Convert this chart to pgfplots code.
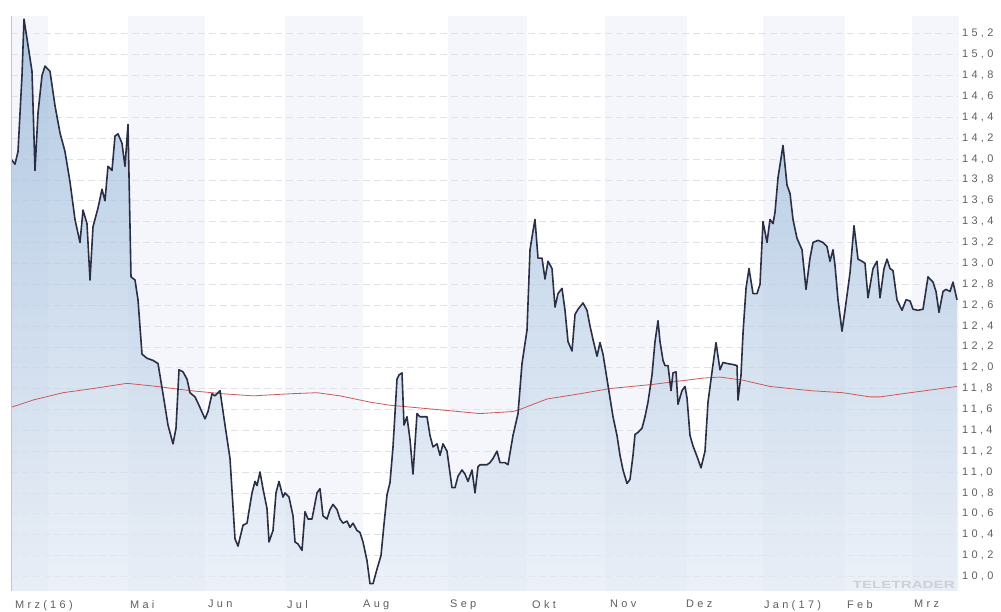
\documentclass[border=0pt]{standalone}
\usepackage{pgfplots}
\pgfplotsset{compat=1.18}
\usepackage{pgfplotstable}
\usepackage{fontspec}
\setmainfont{Liberation Sans}
\newfontfamily\tickfont[LetterSpace=30]{Liberation Sans}
\definecolor{bandcol}{RGB}{245,246,251}
\definecolor{gridcol}{RGB}{224,226,231}
\definecolor{bordercol}{RGB}{195,197,202}
\definecolor{pricecol}{RGB}{42,47,70}
\definecolor{macol}{RGB}{204,88,88}
\definecolor{areatop}{RGB}{148,181,216}
\definecolor{areabot}{RGB}{228,235,245}
\definecolor{labelcol}{RGB}{95,95,95}
\definecolor{wmcol}{RGB}{205,208,213}

\pgfplotstableread{
x y
11 14.00
15 13.95
18 14.07
22 14.80
24 15.34
28 15.09
32 14.84
35 13.89
38 14.44
42 14.80
45 14.89
50 14.84
55 14.51
60 14.25
65 14.07
70 13.78
75 13.42
80 13.20
83 13.51
87 13.38
90 12.84
93 13.35
98 13.53
102 13.71
105 13.60
108 13.93
112 13.89
115 14.22
118 14.24
122 14.15
125 13.93
128 14.33
131 12.87
135 12.84
138 12.65
142 12.13
147 12.09
153 12.07
158 12.04
163 11.75
168 11.45
173 11.27
176 11.42
179 11.98
183 11.96
187 11.89
190 11.76
195 11.72
198 11.66
205 11.51
208 11.58
212 11.75
215 11.73
220 11.78
225 11.45
230 11.13
235 10.36
238 10.29
243 10.49
247 10.51
252 10.80
255 10.91
257 10.87
260 11.00
263 10.84
267 10.65
269 10.33
273 10.44
276 10.80
279 10.91
283 10.76
285 10.80
289 10.76
293 10.58
295 10.33
298 10.31
302 10.25
305 10.62
308 10.55
312 10.55
317 10.80
320 10.84
323 10.58
327 10.55
330 10.64
333 10.69
337 10.64
340 10.55
343 10.51
347 10.53
350 10.47
353 10.51
357 10.44
360 10.42
363 10.33
367 10.15
370 9.93
373 9.93
377 10.07
381 10.20
384 10.50
387 10.78
390 10.90
393 11.24
397 11.89
399 11.93
402 11.95
404 11.45
407 11.53
410 11.31
413 10.98
417 11.56
420 11.53
423 11.53
427 11.53
430 11.35
433 11.24
437 11.27
440 11.16
443 11.27
447 11.20
448 11.13
452 10.85
455 10.85
458 10.96
462 11.02
465 10.98
468 10.91
472 11.02
475 10.80
478 11.05
480 11.07
487 11.07
490 11.09
493 11.13
497 11.20
500 11.09
505 11.09
508 11.07
513 11.35
518 11.56
522 12.04
527 12.36
530 13.13
533 13.31
535 13.42
538 13.05
542 13.05
545 12.85
548 13.02
552 12.95
555 12.58
558 12.71
562 12.76
565 12.55
568 12.25
572 12.16
575 12.51
578 12.56
583 12.62
587 12.55
590 12.40
593 12.27
597 12.11
600 12.24
603 12.13
607 11.89
610 11.71
613 11.53
617 11.35
620 11.16
623 11.02
627 10.89
630 10.93
633 11.16
635 11.36
638 11.38
642 11.42
645 11.53
648 11.67
652 11.93
655 12.25
658 12.45
660 12.25
663 12.07
665 12.02
668 12.02
671 11.78
673 11.95
676 11.96
678 11.65
682 11.78
685 11.82
687 11.71
690 11.35
693 11.25
697 11.15
701 11.04
705 11.20
708 11.67
712 11.96
716 12.24
720 11.98
723 12.05
727 12.04
733 12.03
737 12.02
738 11.69
741 11.93
743 12.33
746 12.76
749 12.95
753 12.71
757 12.71
760 12.80
763 13.40
767 13.20
770 13.42
773 13.38
775 13.49
778 13.82
783 14.13
787 13.75
790 13.67
793 13.42
797 13.24
802 13.13
806 12.75
810 13.05
813 13.20
818 13.22
823 13.20
827 13.16
830 13.02
833 13.13
835 12.98
838 12.65
842 12.35
845 12.55
850 12.91
854 13.36
858 13.04
862 13.02
865 13.00
868 12.67
873 12.95
877 13.02
880 12.67
884 12.95
887 13.04
890 12.95
893 12.93
897 12.65
902 12.55
906 12.65
910 12.64
913 12.56
918 12.55
923 12.56
928 12.87
933 12.82
936 12.73
939 12.53
943 12.73
946 12.75
950 12.73
953 12.82
957 12.65
}\price

\pgfplotstableread{
x y
11 11.62
33 11.69
63 11.76
93 11.80
127 11.85
157 11.82
190 11.78
223 11.75
253 11.73
290 11.75
317 11.76
340 11.73
370 11.67
390 11.64
413 11.62
447 11.59
480 11.56
513 11.58
520 11.60
547 11.70
580 11.75
610 11.80
653 11.84
703 11.90
720 11.91
743 11.88
770 11.82
810 11.78
843 11.76
870 11.72
880 11.72
910 11.76
957 11.82
}\mavg

\begin{document}
\begin{tikzpicture}
\begin{axis}[
  set layers,
  at={(0,0)}, anchor=south west,
  scale only axis, width=947bp, height=575bp,
  xmin=11, xmax=958, ymin=9.86, ymax=15.37,
  axis line style={draw=none},
  major tick length=0pt,
  ytick={10,10.2,10.4,10.6,10.8,11,11.2,11.4,11.6,11.8,12,12.2,12.4,12.6,12.8,13,13.2,13.4,13.6,13.8,14,14.2,14.4,14.6,14.8,15,15.2},
  yticklabel pos=right,
  yticklabel style={font=\tickfont\fontsize{11}{12}\selectfont, text=labelcol, anchor=west, inner xsep=0pt, xshift=4bp,
    /pgf/number format/.cd, fixed, fixed zerofill, precision=1, use comma, assume math mode=true},
  xtick={15,130,208,287,363,450,532,610,686,764,847,914},
  xticklabels={Mrz(16),Mai,Jun,Jul,Aug,Sep,Okt,Nov,Dez,Jan(17),Feb,Mrz},
  xticklabel style={font=\tickfont\fontsize{11}{12}\selectfont, text=labelcol, anchor=north west, inner sep=0pt, yshift=-9bp},
  ymajorgrids,
  grid style={dash pattern=on 7bp off 4bp, color=gridcol, line width=0.6bp},
]
% month bands
\addplot[draw=none, fill=bandcol, forget plot, on layer=axis background] coordinates {(11,9.86) (11,15.37) (48,15.37) (48,9.86)};
\addplot[draw=none, fill=bandcol, forget plot, on layer=axis background] coordinates {(128,9.86) (128,15.37) (205,15.37) (205,9.86)};
\addplot[draw=none, fill=bandcol, forget plot, on layer=axis background] coordinates {(285,9.86) (285,15.37) (363,15.37) (363,9.86)};
\addplot[draw=none, fill=bandcol, forget plot, on layer=axis background] coordinates {(448,9.86) (448,15.37) (527,15.37) (527,9.86)};
\addplot[draw=none, fill=bandcol, forget plot, on layer=axis background] coordinates {(605,9.86) (605,15.37) (687,15.37) (687,9.86)};
\addplot[draw=none, fill=bandcol, forget plot, on layer=axis background] coordinates {(763,9.86) (763,15.37) (845,15.37) (845,9.86)};
\addplot[draw=none, fill=bandcol, forget plot, on layer=axis background] coordinates {(912,9.86) (912,15.37) (958,15.37) (958,9.86)};
% area under price
\addplot[draw=none, top color=areatop, bottom color=areabot, fill opacity=0.7, forget plot] table {\price} |- (axis cs:11,9.86) -- cycle;
% moving average
\addplot[macol, line width=0.8bp, no marks] table {\mavg};
% price line
\addplot[pricecol, line width=1.6bp, line join=round, no marks] table {\price};
% frame
\draw[bordercol, line width=0.8bp] (rel axis cs:0,1) -- (rel axis cs:0,0) -- (rel axis cs:1,0) -- (rel axis cs:1,1);
\node[anchor=south east, inner sep=0pt, text=wmcol, font=\fontsize{10.5}{11}\selectfont\bfseries, xscale=1.45] at ([xshift=-3bp, yshift=2bp]rel axis cs:1,0) {TELETRADER};
\end{axis}
\pgfresetboundingbox
\path[use as bounding box] (-11bp,-21bp) rectangle (990bp,591bp);
\end{tikzpicture}
\end{document}
